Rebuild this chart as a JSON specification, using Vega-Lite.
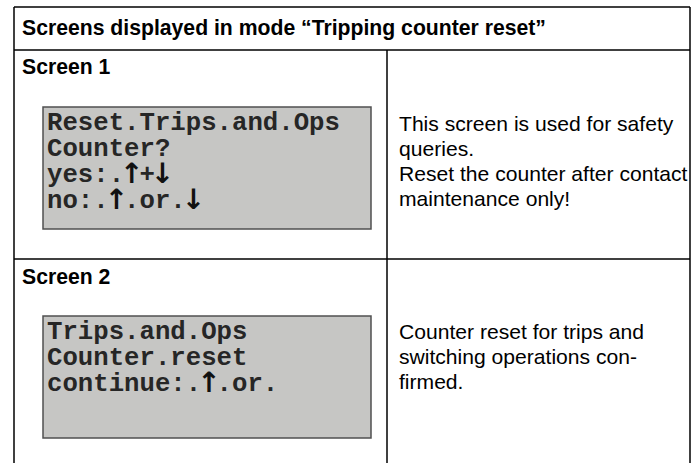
{
  "$schema": "https://vega.github.io/schema/vega-lite/v6.json",
  "width": 696,
  "height": 463,
  "autosize": {"type": "none"},
  "padding": 0,
  "background": "white",
  "config": {"view": {"stroke": null}},
  "datasets": {
    "lines": [
      {"x": 14, "x2": 690, "y": 7, "y2": 7},
      {"x": 14, "x2": 690, "y": 50, "y2": 50},
      {"x": 14, "x2": 690, "y": 259, "y2": 259},
      {"x": 14, "x2": 14, "y": 7, "y2": 463},
      {"x": 690, "x2": 690, "y": 7, "y2": 463},
      {"x": 387, "x2": 387, "y": 50, "y2": 463}
    ],
    "boxes": [
      {"x": 43, "x2": 371, "y": 107, "y2": 229},
      {"x": 43, "x2": 371, "y": 316, "y2": 438}
    ],
    "texts": [
      {"kind": "title", "x": 22, "y": 35, "t": "Screens displayed in mode “Tripping counter reset”"},
      {"kind": "label", "x": 22, "y": 74, "t": "Screen 1"},
      {"kind": "label", "x": 22, "y": 284, "t": "Screen 2"},
      {"kind": "lcd", "x": 47, "y": 130, "t": "Reset.Trips.and.Ops"},
      {"kind": "lcd", "x": 47, "y": 156, "t": "Counter?"},
      {"kind": "lcd", "x": 47, "y": 182, "t": "yes:."},
      {"kind": "lcd", "x": 139.5, "y": 182, "t": "+"},
      {"kind": "lcd", "x": 47, "y": 208, "t": "no:."},
      {"kind": "lcd", "x": 124.1, "y": 208, "t": ".or."},
      {"kind": "lcd", "x": 47, "y": 339, "t": "Trips.and.Ops"},
      {"kind": "lcd", "x": 47, "y": 365, "t": "Counter.reset"},
      {"kind": "lcd", "x": 47, "y": 391, "t": "continue:."},
      {"kind": "lcd", "x": 216.6, "y": 391, "t": ".or."},
      {"kind": "arrow", "x": 131.8, "y": 183, "t": "↑"},
      {"kind": "arrow", "x": 162.6, "y": 183, "t": "↓"},
      {"kind": "arrow", "x": 116.4, "y": 209, "t": "↑"},
      {"kind": "arrow", "x": 193.5, "y": 209, "t": "↓"},
      {"kind": "arrow", "x": 208.9, "y": 392, "t": "↑"},
      {"kind": "desc", "x": 399, "y": 131, "t": "This screen is used for safety"},
      {"kind": "desc", "x": 399, "y": 156, "t": "queries."},
      {"kind": "desc", "x": 399, "y": 181, "t": "Reset the counter after contact"},
      {"kind": "desc", "x": 399, "y": 206, "t": "maintenance only!"},
      {"kind": "desc", "x": 399, "y": 339, "t": "Counter reset for trips and"},
      {"kind": "desc", "x": 399, "y": 364, "t": "switching operations con-"},
      {"kind": "desc", "x": 399, "y": 389, "t": "firmed."}
    ]
  },
  "layer": [
    {
      "data": {"name": "boxes"},
      "mark": {"type": "rect", "fill": "#c6c6c4", "stroke": "#505050", "strokeWidth": 1.5},
      "encoding": {
        "x": {"field": "x", "type": "quantitative", "scale": {"domain": [0, 696], "nice": false, "zero": false}, "axis": null},
        "x2": {"field": "x2"},
        "y": {"field": "y", "type": "quantitative", "scale": {"domain": [0, 463], "nice": false, "zero": false, "reverse": true}, "axis": null},
        "y2": {"field": "y2"}
      }
    },
    {
      "data": {"name": "lines"},
      "mark": {"type": "rule", "color": "black", "strokeWidth": 1.5},
      "encoding": {
        "x": {"field": "x", "type": "quantitative", "scale": {"domain": [0, 696], "nice": false, "zero": false}, "axis": null},
        "x2": {"field": "x2"},
        "y": {"field": "y", "type": "quantitative", "scale": {"domain": [0, 463], "nice": false, "zero": false, "reverse": true}, "axis": null},
        "y2": {"field": "y2"}
      }
    },
    {
      "data": {"name": "texts"},
      "transform": [{"filter": "datum.kind === 'title' || datum.kind === 'label'"}],
      "mark": {"type": "text", "align": "left", "baseline": "alphabetic", "font": "Liberation Sans", "fontWeight": "bold", "fontSize": 21.2, "color": "black"},
      "encoding": {
        "x": {"field": "x", "type": "quantitative", "scale": {"domain": [0, 696], "nice": false, "zero": false}, "axis": null},
        "y": {"field": "y", "type": "quantitative", "scale": {"domain": [0, 463], "nice": false, "zero": false, "reverse": true}, "axis": null},
        "text": {"field": "t"}
      }
    },
    {
      "data": {"name": "texts"},
      "transform": [{"filter": "datum.kind === 'lcd'"}],
      "mark": {"type": "text", "align": "left", "baseline": "alphabetic", "font": "Liberation Mono", "fontWeight": "bold", "fontSize": 25.7, "color": "#262626"},
      "encoding": {
        "x": {"field": "x", "type": "quantitative", "scale": {"domain": [0, 696], "nice": false, "zero": false}, "axis": null},
        "y": {"field": "y", "type": "quantitative", "scale": {"domain": [0, 463], "nice": false, "zero": false, "reverse": true}, "axis": null},
        "text": {"field": "t"}
      }
    },
    {
      "data": {"name": "texts"},
      "transform": [{"filter": "datum.kind === 'arrow'"}],
      "mark": {"type": "text", "align": "center", "baseline": "alphabetic", "font": "DejaVu Sans", "fontWeight": "bold", "fontSize": 28, "color": "#111111"},
      "encoding": {
        "x": {"field": "x", "type": "quantitative", "scale": {"domain": [0, 696], "nice": false, "zero": false}, "axis": null},
        "y": {"field": "y", "type": "quantitative", "scale": {"domain": [0, 463], "nice": false, "zero": false, "reverse": true}, "axis": null},
        "text": {"field": "t"}
      }
    },
    {
      "data": {"name": "texts"},
      "transform": [{"filter": "datum.kind === 'desc'"}],
      "mark": {"type": "text", "align": "left", "baseline": "alphabetic", "font": "Liberation Sans", "fontSize": 21.1, "color": "black"},
      "encoding": {
        "x": {"field": "x", "type": "quantitative", "scale": {"domain": [0, 696], "nice": false, "zero": false}, "axis": null},
        "y": {"field": "y", "type": "quantitative", "scale": {"domain": [0, 463], "nice": false, "zero": false, "reverse": true}, "axis": null},
        "text": {"field": "t"}
      }
    }
  ]
}
